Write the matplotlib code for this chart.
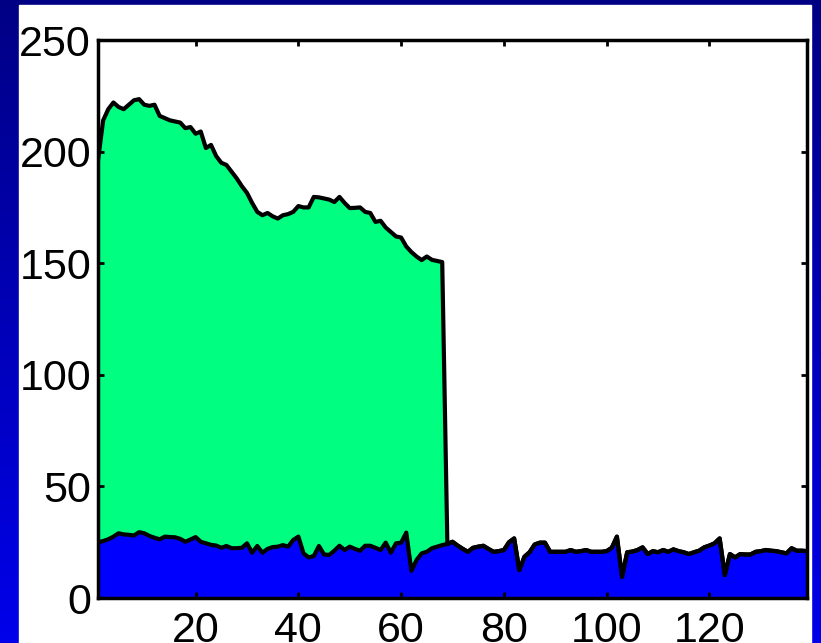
import matplotlib.pyplot as plt
import numpy as np

# lower (blue) series, x = 1..139
blue_vals = [25, 25.5, 26.3, 27.5, 29, 28.5, 28.3, 28, 29.5, 29,
             27.8, 27, 26.3, 27.5, 27.3, 27.2, 26.5, 25.2, 26.2, 27.3,
             25.2, 24.5, 23.8, 23.5, 22.5, 23.3, 22.3, 22.3, 22.5, 24.5,
             20.3, 23.3, 20.3, 22, 22.8, 23, 23.7, 23, 26, 27.5,
             20, 18.2, 18.8, 23.3, 19.5, 19.3, 21.2, 23.4, 21.5, 23,
             22, 21.2, 23.4, 23.4, 22.5, 21.5, 24.8, 20.3, 24.5, 24.8,
             29.3, 12.2, 17, 20, 20.7, 22.3, 23, 23.7, 24.2, 25.2,
             23.5, 22, 20.7, 22.5, 23, 23.4, 22, 20.7, 21, 21.5,
             25, 26.7, 12.5, 18.5, 20.5, 24, 24.8, 24.8, 20.7, 20.7,
             20.7, 20.7, 21.5, 20.7, 21, 21.5, 20.7, 20.7, 20.7, 21,
             22.5, 27.5, 9.5, 20.5, 20.8, 21.5, 22.7, 19.7, 21, 20.5,
             21.5, 20.7, 21.8, 21, 20.5, 19.7, 20.5, 21.2, 22.7, 23.5,
             24.5, 26.7, 10.3, 19.7, 18.2, 19.7, 19.5, 19.5, 20.7, 21,
             21.5, 21.2, 21, 20.5, 20, 22.3, 21.2, 21.2, 21]

# upper (green) total, x = 1..68
green_vals = [196, 214, 219, 222, 220, 219, 221, 223, 223.5, 221,
              220.5, 221, 216, 215, 214, 213.5, 213, 210.5, 211, 208,
              209, 201.6, 203, 198, 195, 194, 191, 188, 184.5, 181.5,
              177, 173, 171.5, 172.5, 171, 170, 171.5, 172, 173, 175.6,
              175, 175, 179.7, 179.5, 179, 178.5, 177.4, 179.7, 177, 174.7,
              174.8, 175, 173, 172.5, 168.5, 169, 166, 164, 162, 161.5,
              157.5, 155, 153, 151.4, 153, 151.5, 151, 150.5]

x = np.arange(1, len(blue_vals) + 1)
blue = np.array(blue_vals)
total = np.concatenate([green_vals, blue[len(green_vals):]])

fig = plt.figure(figsize=(8.21, 6.43), dpi=100)

# slide-like blue gradient background with white panel
bg = fig.add_axes([0, 0, 1, 1], zorder=-2)
grad = np.linspace(0, 1, 256).reshape(-1, 1)
cols = np.zeros((256, 1, 3))
cols[:, 0, 2] = 0.52 + 0.40 * grad[:, 0]
bg.imshow(cols, aspect='auto', extent=[0, 1, 0, 1], origin='upper')
bg.add_patch(plt.Rectangle((19 / 821, 0), (811 - 19) / 821, 1 - 5 / 643,
                           color='white', transform=bg.transAxes))
bg.set_xlim(0, 1)
bg.set_ylim(0, 1)
bg.axis('off')

ax = fig.add_axes([98 / 821, 1 - 598 / 643, (807 - 98) / 821, (598 - 40) / 643])
ax.fill_between(x, 0, total, color='#00ff80', linewidth=0)
ax.fill_between(x, 0, blue, color='#0000ff', linewidth=0)
ax.plot(x, total, color='black', lw=3, solid_joinstyle='round')
ax.plot(x, blue, color='black', lw=3, solid_joinstyle='round')

ax.set_xlim(1, 139)
ax.set_ylim(0, 250)
ax.set_xticks([20, 40, 60, 80, 100, 120])
ax.set_yticks([0, 50, 100, 150, 200, 250])
ax.tick_params(direction='in', top=True, right=True, length=4, width=2,
               labelsize=31, colors='black')
ax.tick_params(axis='x', pad=9)
ax.tick_params(axis='y', pad=5)
for lab in ax.get_xticklabels() + ax.get_yticklabels():
    lab.set_family('Liberation Sans')
for s in ax.spines.values():
    s.set_linewidth(2.5)
ax.set_facecolor('white')

fig.savefig('out.png', dpi=100)
